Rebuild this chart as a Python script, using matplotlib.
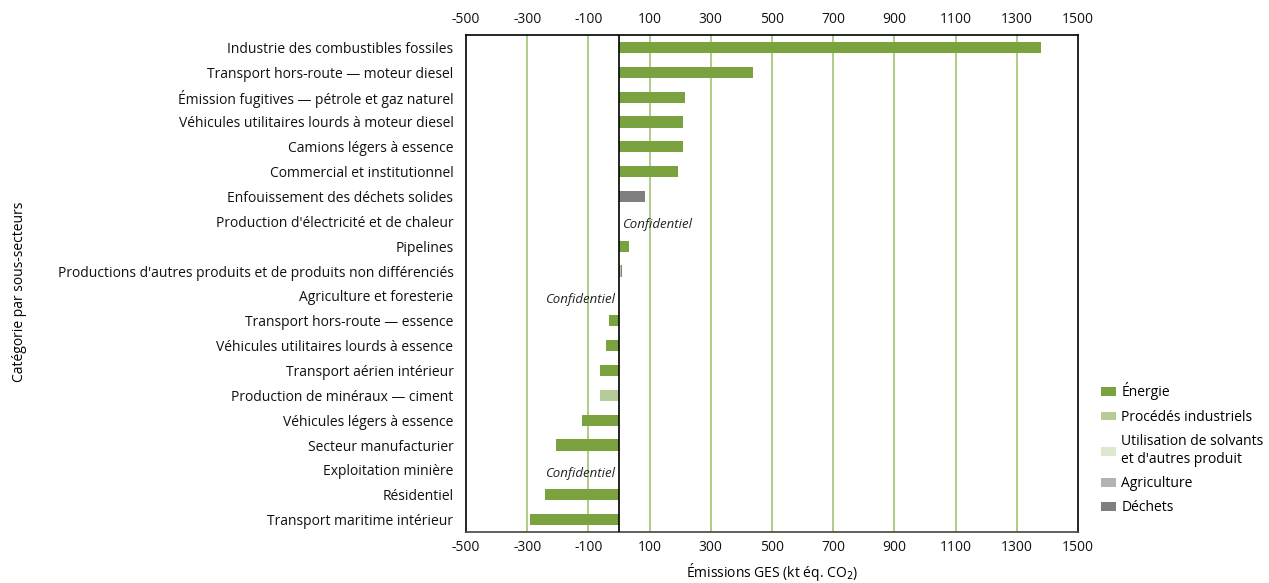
import matplotlib
matplotlib.use("Agg")
import matplotlib.pyplot as plt
from matplotlib.patches import Patch
import numpy as np

plt.rcParams['font.family'] = ['Open Sans', 'DejaVu Sans']

categories = [
    "Industrie des combustibles fossiles",
    "Transport hors-route — moteur diesel",
    "Émission fugitives — pétrole et gaz naturel",
    "Véhicules utilitaires lourds à moteur diesel",
    "Camions légers à essence",
    "Commercial et institutionnel",
    "Enfouissement des déchets solides",
    "Production d'électricité et de chaleur",
    "Pipelines",
    "Productions d'autres produits et de produits non différenciés",
    "Agriculture et foresterie",
    "Transport hors-route — essence",
    "Véhicules utilitaires lourds à essence",
    "Transport aérien intérieur",
    "Production de minéraux — ciment",
    "Véhicules légers à essence",
    "Secteur manufacturier",
    "Exploitation minière",
    "Résidentiel",
    "Transport maritime intérieur",
]

energie     = [1379, 437, 217, 209, 209, 192, 0, 0, 33, 0, 0, -33, -43, -63, 0, -122, -206, 0, -242, -291]
procedes    = [0, 0, 0, 0, 0, 0, 0, 0, 0, 6, 0, 0, 0, 0, -63, 0, 0, 0, 0, 0]
solvants    = [0] * 20
agriculture = [0] * 20
dechets     = [0, 0, 0, 0, 0, 0, 85, 0, 0, 5, 0, 0, 0, 0, 0, 0, 0, 0, 0, 0]

# Rows withheld for confidentiality: label side (+1 right of zero, -1 left)
confidentiel = {7: 1, 10: -1, 17: -1}

series = [
    ("Énergie", energie, "#7aa33f"),
    ("Procédés industriels", procedes, "#b5cc98"),
    ("Utilisation de solvants\net d'autres produit", solvants, "#dde9cf"),
    ("Agriculture", agriculture, "#b3b3b3"),
    ("Déchets", dechets, "#7f7f7f"),
]

xticks = [-500, -300, -100, 100, 300, 500, 700, 900, 1100, 1300, 1500]

fig = plt.figure(figsize=(12.69, 5.83), dpi=100)
ax = fig.add_axes([466 / 1269, 1 - 532 / 583, 612 / 1269, 497 / 583])

y = np.arange(len(categories))
pos_left = np.zeros(len(categories))
neg_left = np.zeros(len(categories))
for name, vals, color in series:
    v = np.array(vals, dtype=float)
    left = np.where(v >= 0, pos_left, neg_left)
    ax.barh(y, v, left=left, height=0.45, color=color, zorder=3)
    pos_left += np.where(v > 0, v, 0)
    neg_left += np.where(v < 0, v, 0)

for i, side in confidentiel.items():
    ax.annotate("Confidentiel", xy=(0, i), xytext=(2.5 * side, -2.5),
                textcoords="offset points", ha="left" if side > 0 else "right",
                va="center", fontsize=9.5, fontstyle="italic", color="#222222")

ax.set_xlim(-500, 1500)
ax.set_ylim(len(categories) - 0.5, -0.5)
ax.set_xticks(xticks)
ax.set_xticklabels([str(t) for t in xticks], fontsize=10, color="#111111")
ax.set_yticks(y)
ax.set_yticklabels(categories, fontsize=10, color="#111111")
ax.tick_params(axis="both", length=0)
ax.tick_params(axis="y", pad=9)
ax.tick_params(axis="x", pad=6, top=True, labeltop=True)

for t in xticks[1:-1]:
    ax.axvline(t, color="#a8c880", lw=1.3, zorder=1)
ax.axvline(0, color="black", lw=1.2, zorder=4)

for s in ax.spines.values():
    s.set_color("black")
    s.set_linewidth(1.2)
ax.spines["bottom"].set_color("#444444")

ax.set_xlabel("Émissions GES (kt éq. CO$_2$)", fontsize=10, labelpad=4)
fig.text(20 / 1269, 1 - 292 / 583, "Catégorie par sous-secteurs", rotation=90,
         ha="center", va="center", fontsize=10)

handles = [Patch(facecolor=c, edgecolor="none", label=n) for n, _, c in series]
fig.legend(handles=handles, loc="upper left", bbox_to_anchor=(1088 / 1269, 1 - 370 / 583),
           frameon=False, fontsize=10, handlelength=1.1, handleheight=0.6,
           handletextpad=0.4, labelspacing=0.68)

fig.savefig("out.png", dpi=100)
